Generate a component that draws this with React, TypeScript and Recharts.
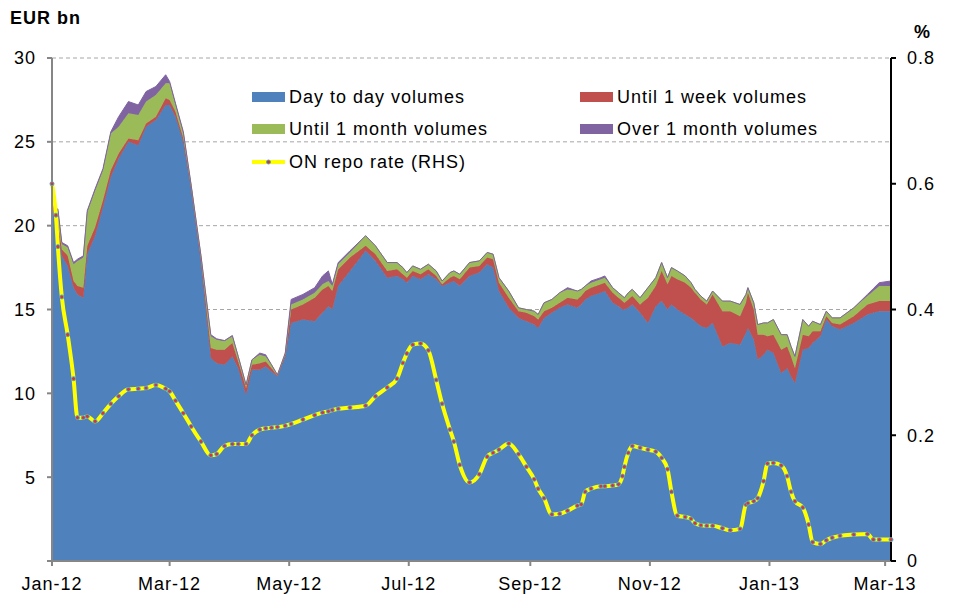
import { ComposedChart, Area, Line, XAxis, YAxis, CartesianGrid } from 'recharts';

// day offsets from 1 Jan 2012
const days = [0, 2, 3, 5, 8, 11, 13, 16, 18, 22, 26, 30, 34, 39, 44, 48, 53, 58, 60, 63, 67, 71, 76, 81, 84, 88, 92, 95, 99, 102, 106, 109, 112, 115, 119, 122, 128, 134, 138, 141, 143, 146, 152, 160, 165, 171, 176, 179, 181, 184, 188, 192, 196, 199, 203, 205, 208, 213, 218, 222, 225, 228, 233, 238, 242, 246, 248, 251, 255, 259, 263, 268, 270, 272, 275, 280, 282, 286, 289, 291, 292, 294, 296, 300, 304, 308, 311, 314, 316, 319, 323, 326, 328, 331, 334, 337, 342, 346, 351, 354, 355, 358, 360, 363, 365, 368, 372, 375, 377, 379, 383, 386, 388, 392, 395, 398, 402, 409, 416, 419, 422, 428];

const dayToDay = [21.5, 19.8, 19.6, 18.2, 17.6, 16.3, 15.9, 15.7, 18.3, 19.4, 21.1, 22.9, 24.0, 25.0, 24.8, 25.9, 26.3, 27.2, 27.2, 26.5, 25.0, 22.2, 17.9, 12.1, 11.8, 11.7, 12.2, 11.5, 9.9, 11.4, 11.4, 11.6, 11.3, 11.0, 12.2, 14.2, 14.4, 14.3, 14.8, 15.2, 15.0, 16.4, 17.3, 18.5, 17.9, 16.9, 17.0, 16.8, 16.6, 17.0, 16.8, 17.1, 16.8, 16.4, 16.6, 16.7, 16.4, 17.0, 17.2, 17.7, 17.5, 16.1, 15.1, 14.5, 14.3, 14.1, 13.9, 14.5, 14.8, 15.1, 15.3, 15.1, 15.3, 15.6, 15.8, 16.0, 16.1, 15.4, 15.2, 15.0, 15.0, 15.1, 15.3, 14.8, 14.2, 15.2, 15.5, 15.0, 15.3, 15.0, 14.7, 14.5, 14.3, 14.0, 13.9, 14.2, 12.8, 13.0, 12.9, 13.6, 13.9, 13.2, 12.0, 12.3, 12.6, 12.4, 11.2, 11.5, 11.0, 10.6, 12.6, 12.7, 13.0, 13.4, 14.4, 14.0, 13.8, 14.2, 14.7, 14.8, 14.9, 14.9];

const untilWeek = [0.6, 0.5, 0.6, 0.4, 0.6, 0.4, 0.5, 0.6, 0.5, 0.5, 0.4, 0.4, 0.3, 0.2, 0.3, 0.2, 0.2, 0.4, 0.3, 0.3, 0.2, 0.1, 0.1, 0.6, 0.8, 0.9, 0.8, 0.4, 0.4, 0.3, 0.4, 0.3, 0.2, 0.05, 0.1, 0.8, 0.9, 1.4, 1.4, 1.2, 1.1, 1.0, 0.8, 0.3, 0.4, 0.4, 0.4, 0.3, 0.3, 0.3, 0.3, 0.3, 0.2, 0.1, 0.3, 0.3, 0.4, 0.5, 0.4, 0.4, 0.5, 0.5, 0.6, 0.4, 0.5, 0.5, 0.5, 0.4, 0.3, 0.3, 0.4, 0.5, 0.5, 0.5, 0.5, 0.5, 0.5, 0.6, 0.5, 0.5, 0.4, 0.5, 0.5, 0.5, 1.5, 1.2, 1.8, 1.5, 1.7, 1.8, 1.9, 1.8, 1.7, 1.6, 1.4, 1.7, 2.1, 1.9, 1.7, 1.8, 2.1, 1.8, 1.5, 1.2, 0.8, 1.1, 1.4, 1.3, 1.2, 0.9, 0.9, 0.7, 0.7, 0.3, 0.2, 0.2, 0.3, 0.4, 0.6, 0.6, 0.6, 0.6];

const untilMonth = [0.5, 0.6, 0.7, 0.3, 0.5, 1.0, 1.5, 1.8, 2.0, 2.2, 1.8, 2.2, 1.6, 1.5, 1.5, 1.3, 1.3, 0.9, 1.0, 0.4, 0.3, 0.1, 0.2, 0.7, 0.6, 0.5, 0.4, 0.3, 0.2, 0.3, 0.5, 0.3, 0.2, 0.05, 0.1, 0.3, 0.3, 0.3, 0.3, 0.3, 0.3, 0.3, 0.3, 0.6, 0.5, 0.5, 0.4, 0.4, 0.3, 0.3, 0.3, 0.3, 0.3, 0.2, 0.3, 0.3, 0.3, 0.3, 0.3, 0.3, 0.3, 0.3, 0.4, 0.2, 0.2, 0.3, 0.3, 0.5, 0.5, 0.6, 0.5, 0.5, 0.4, 0.3, 0.3, 0.3, 0.3, 0.3, 0.3, 0.3, 0.3, 0.4, 0.4, 0.4, 0.6, 0.5, 0.5, 0.4, 0.5, 0.5, 0.4, 0.3, 0.2, 0.2, 0.2, 0.2, 0.6, 0.6, 0.7, 0.5, 0.3, 0.4, 0.6, 0.7, 0.8, 0.9, 0.9, 0.7, 0.6, 0.7, 0.9, 0.6, 0.6, 0.4, 0.3, 0.3, 0.4, 0.5, 0.5, 0.7, 0.9, 0.9];

const overMonth = [0.1, 0.1, 0.1, 0.1, 0.1, 0.1, 0.1, 0.1, 0.1, 0.1, 0.1, 0.1, 0.6, 0.7, 0.6, 0.6, 0.5, 0.5, 0.1, 0.1, 0.1, 0, 0, 0.1, 0.05, 0.05, 0.05, 0, 0, 0, 0.1, 0.1, 0, 0, 0, 0.3, 0.3, 0.3, 0.5, 0.6, 0.1, 0.1, 0.1, 0, 0, 0, 0, 0, 0, 0, 0, 0, 0, 0, 0, 0, 0, 0, 0, 0, 0, 0, 0, 0, 0, 0, 0, 0, 0, 0, 0.1, 0, 0, 0, 0.1, 0.1, 0.1, 0, 0, 0, 0, 0, 0, 0, 0, 0, 0, 0, 0, 0, 0, 0, 0, 0, 0, 0, 0, 0, 0, 0, 0, 0, 0, 0, 0, 0, 0, 0, 0, 0, 0, 0, 0, 0, 0, 0, 0, 0, 0.1, 0.15, 0.2, 0.3];

const repoRate = [0.6, 0.55, 0.5, 0.42, 0.36, 0.29, 0.228, 0.228, 0.23, 0.222, 0.235, 0.25, 0.262, 0.273, 0.274, 0.275, 0.28, 0.274, 0.27, 0.255, 0.235, 0.214, 0.19, 0.168, 0.17, 0.183, 0.186, 0.186, 0.186, 0.2, 0.209, 0.211, 0.212, 0.213, 0.215, 0.218, 0.225, 0.232, 0.236, 0.238, 0.24, 0.242, 0.244, 0.247, 0.262, 0.276, 0.29, 0.315, 0.33, 0.344, 0.346, 0.335, 0.288, 0.25, 0.209, 0.19, 0.153, 0.125, 0.138, 0.166, 0.172, 0.177, 0.187, 0.17, 0.15, 0.13, 0.115, 0.1, 0.074, 0.075, 0.08, 0.088, 0.09, 0.11, 0.115, 0.119, 0.119, 0.12, 0.122, 0.135, 0.15, 0.172, 0.183, 0.18, 0.177, 0.174, 0.164, 0.146, 0.11, 0.072, 0.07, 0.067, 0.06, 0.057, 0.056, 0.056, 0.052, 0.049, 0.051, 0.09, 0.092, 0.095, 0.1, 0.127, 0.155, 0.156, 0.152, 0.135, 0.11, 0.095, 0.085, 0.058, 0.03, 0.027, 0.033, 0.037, 0.04, 0.042, 0.043, 0.034, 0.034, 0.034];

const monthTicks = [0, 60, 121, 182, 244, 305, 366, 425];
const monthLabels = ['Jan-12', 'Mar-12', 'May-12', 'Jul-12', 'Sep-12', 'Nov-12', 'Jan-13', 'Mar-13'];

const data = days.map((d, i) => ({
  day: d,
  dd: dayToDay[i],
  wk: untilWeek[i],
  mo: untilMonth[i],
  ov: overMonth[i],
  rate: repoRate[i],
}));

const font = 'Arial, "Liberation Sans", sans-serif';
const tickStyle = { fontSize: 18, fill: '#000', fontFamily: font, letterSpacing: 1 };

const legendItems = [
  { label: 'Day to day volumes', color: '#4F81BD', x: 252, y: 97 },
  { label: 'Until 1 week volumes', color: '#C0504D', x: 580, y: 97 },
  { label: 'Until 1 month volumes', color: '#9BBB59', x: 252, y: 129 },
  { label: 'Over 1 month volumes', color: '#8064A2', x: 580, y: 129 },
];

export default function App() {
  return (
    <div style={{ position: 'absolute', left: 0, top: 0, width: 955, height: 595, background: '#fff', fontFamily: font }}>
      <ComposedChart width={955} height={595} data={data} margin={{ top: 58, right: 0, bottom: 0, left: 0 }}>
        <CartesianGrid horizontal vertical={false} stroke="#a6a6a6" strokeDasharray="4 3" yAxisId="left" />
        <XAxis
          dataKey="day"
          type="number"
          domain={[0, 428]}
          ticks={monthTicks}
          tickFormatter={(v) => monthLabels[monthTicks.indexOf(v)]}
          height={34}
          stroke="#868686"
          strokeWidth={2}
          tickSize={5}
          tickMargin={11}
          tick={tickStyle}
        />
        <YAxis
          yAxisId="left"
          domain={[0, 30]}
          ticks={[0, 5, 10, 15, 20, 25, 30]}
          tickFormatter={(v) => (v === 0 ? '' : String(v))}
          width={52}
          stroke="#868686"
          strokeWidth={2}
          tickSize={5}
          tickMargin={11}
          tick={tickStyle}
        />
        <YAxis
          yAxisId="right"
          orientation="right"
          domain={[0, 0.8]}
          ticks={[0, 0.2, 0.4, 0.6, 0.8]}
          tickFormatter={(v) => (v === 0 ? '0' : v.toFixed(1))}
          width={64}
          stroke="#000"
          strokeWidth={2}
          tickSize={5}
          tickMargin={11}
          tick={tickStyle}
        />
        <Area yAxisId="left" type="linear" dataKey="dd" stackId="v" fill="#4F81BD" stroke="#4F81BD" strokeWidth={1} fillOpacity={1} isAnimationActive={false} />
        <Area yAxisId="left" type="linear" dataKey="wk" stackId="v" fill="#C0504D" stroke="#C0504D" strokeWidth={1} fillOpacity={1} isAnimationActive={false} />
        <Area yAxisId="left" type="linear" dataKey="mo" stackId="v" fill="#9BBB59" stroke="#9BBB59" strokeWidth={1} fillOpacity={1} isAnimationActive={false} />
        <Area yAxisId="left" type="linear" dataKey="ov" stackId="v" fill="#8064A2" stroke="#8064A2" strokeWidth={1} fillOpacity={1} isAnimationActive={false} />
        <Line
          yAxisId="right"
          type="monotone"
          dataKey="rate"
          stroke="#FFFF00"
          strokeWidth={4}
          dot={{ r: 2, fill: '#E0302F', stroke: '#4BACC6', strokeWidth: 1 }}
          isAnimationActive={false}
        />
      </ComposedChart>

      <div style={{ position: 'absolute', left: 10, top: 8, fontSize: 18, fontWeight: 'bold', letterSpacing: 1 }}>EUR bn</div>
      <div style={{ position: 'absolute', left: 914, top: 22, fontSize: 18, fontWeight: 'bold' }}>%</div>

      {legendItems.map((it) => (
        <div key={it.label} style={{ position: 'absolute', left: it.x, top: it.y - 11, height: 22, display: 'flex', alignItems: 'center', fontSize: 18, letterSpacing: 1, whiteSpace: 'nowrap' }}>
          <span style={{ display: 'inline-block', width: 33, height: 10, background: it.color, marginRight: 4 }} />
          {it.label}
        </div>
      ))}
      <div style={{ position: 'absolute', left: 252, top: 151, height: 22, display: 'flex', alignItems: 'center', fontSize: 18, letterSpacing: 1, whiteSpace: 'nowrap' }}>
        <svg width={33} height={10} style={{ marginRight: 4 }}>
          <line x1={0} y1={5} x2={33} y2={5} stroke="#FFFF00" strokeWidth={4} />
          <circle cx={16.5} cy={5} r={2} fill="#E0302F" stroke="#4BACC6" strokeWidth={1} />
        </svg>
        ON repo rate (RHS)
      </div>
    </div>
  );
}
